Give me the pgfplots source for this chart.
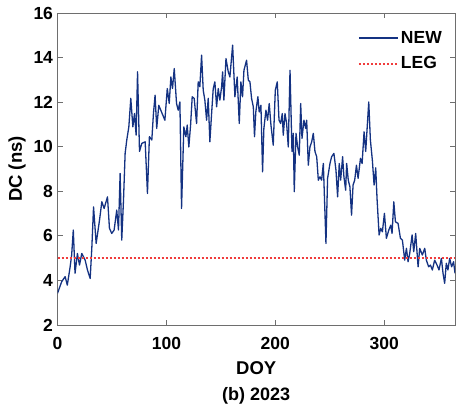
\documentclass[border=0pt]{standalone}
\usepackage{pgfplots}
\pgfplotsset{compat=1.18}
\usepackage{fontspec}
\setmainfont{Liberation Sans}
\definecolor{newblue}{RGB}{20,50,130}
\definecolor{legred}{RGB}{240,60,60}
\definecolor{axgray}{RGB}{110,110,110}
\begin{document}
\begin{tikzpicture}
\begin{axis}[
  name=ax,
  scale only axis,
  width=397.5pt, height=312pt,
  xmin=0, xmax=365, ymin=2, ymax=16,
  xtick={0,100,200,300}, ytick={2,4,...,16},
  tick align=inside,
  axis line style={axgray, line width=0.8pt},
  every tick/.style={axgray, line width=0.8pt},
  major tick length=5pt,
  /pgf/number format/assume math mode=true,
  tick label style={font=\fontsize{17.5}{17.5}\selectfont\bfseries, text=black},
  xticklabel style={yshift=-9pt},
  yticklabel style={xshift=-1pt},
  xlabel={DOY}, ylabel={DC (ns)},
  label style={font=\fontsize{18.5}{18.5}\selectfont\bfseries},
  xlabel style={yshift=-5pt},
  ylabel style={yshift=1pt},
  legend style={draw=none, fill=none, at={(1,1)}, anchor=north east,
    xshift=-8pt, yshift=-14pt,
    font=\fontsize{17.5}{17.5}\selectfont\bfseries, row sep=8pt,
    nodes={inner sep=2pt}},
  legend cell align=left,
  legend image code/.code={\draw[#1] (0pt,0pt) -- (39pt,0pt);},
]
\addplot[newblue, line width=1.3pt, line join=round] coordinates {
(0,3.42) (3.8,3.94) (7,4.17) (9,3.79) (11.6,4.61) (13,5.14) (14.5,6.26) (16.1,4.32)
(18.3,5.21) (20.2,4.69) (22.3,5.21) (25.4,4.91) (27.5,4.47) (30,4.09) (31.5,5.44)
(33.1,7.3) (35.5,5.66) (38.6,6.71) (40.7,7.53) (42.8,7.23) (45.9,7.75) (47.7,6.34)
(49.8,6.11) (52,6.26) (54.4,7.16) (56,6.26) (57.5,8.8) (59,5.81) (60.6,7.6) (62.1,9.7)
(63.6,10.3) (65.5,10.89) (67.3,12.17) (69.2,10.89) (70.7,11.49) (72.2,10.52) (73.5,13.36)
(75.3,9.79) (77.4,10.15) (80.5,10.22) (82.6,7.9) (84.4,10.45) (86.6,10.3) (88.1,11.49)
(89.6,12.31) (91.1,10.82) (93,11.86) (95.5,11.56) (98.6,11.19) (100.8,12.61) (102.6,11.94)
(104.1,13.13) (105.6,12.61) (107.2,13.51) (109.3,11.94) (110.8,11.64) (112.4,12.01)
(113.9,7.23) (116,10.89) (117.9,10.45) (119.1,10.97) (120.6,9.99) (122.2,10.97)
(123.7,12.24) (125.5,12.17) (127.7,11.04) (129.2,12.91) (130.7,12.69) (132.3,14.11)
(133.8,12.54) (135.3,12.09) (136.9,11.19) (138.4,12.17) (139.9,10.22) (141.5,11.49)
(143,12.61) (144.5,12.91) (146.1,11.79) (147.6,12.61) (149.1,12.09) (150.7,12.69)
(151.6,13.36) (152.8,12.09) (154.7,13.96) (156.8,13.36) (158.3,13.13) (160.8,14.56)
(162.9,12.24) (165,13.13) (166.9,11.04) (168.4,12.91) (169.9,12.24) (171.2,13.43)
(173.6,13.88) (175.2,12.99) (176.7,12.91) (178.2,12.17) (179.8,11.79) (180.9,10.45)
(182.1,11.56) (184,12.24) (185.2,11.56) (186.8,11.86) (188.3,8.87) (189.5,10.82)
(191.4,11.64) (192.9,11.19) (194.4,11.94) (196,10.97) (198.1,10.07) (200,12.54)
(201.8,12.91) (203.4,11.19) (204.9,11.04) (206.4,11.49) (207.3,10.52) (208.9,11.49)
(210.4,11.04) (211.9,9.99) (213.5,13.43) (215.3,9.79) (216.5,10.6) (217.4,7.98)
(219,10.6) (220.5,9.99) (222,9.62) (223.3,11.94) (224.5,10.37) (226.3,11.19)
(227.9,10.82) (228.8,11.19) (230.3,9.17) (231.8,9.99) (233.4,10.22) (234.9,10.6)
(236.4,9.79) (238,9.55) (239.5,8.5) (241,8.65) (242.5,8.5) (244.1,9.25) (246.5,5.66)
(248,8.58) (250.2,9.25) (251.7,9.55) (253.8,9.7) (255.7,8.95) (257.2,7.75) (258.7,9.25)
(260,8.5) (261.8,9.55) (263,8.65) (264.6,8.05) (265.5,9.25) (267,8.5) (268.5,8.2)
(270,6.93) (271.4,8.28) (272.9,8.5) (274.5,9.17) (276,8.58) (278.2,9.48) (279.7,9.25)
(281.5,10.67) (283,9.79) (285.8,12.01) (287.3,10.3) (289.1,9.4) (290.7,8.28) (292.2,9.05)
(293.4,7.68) (295.3,6.04) (296.8,6.34) (298.3,6.18) (300.2,7.01) (302,5.89) (304.2,6.26)
(306,6.48) (307.2,6.11) (308.8,7.53) (310.3,6.63) (312.7,6.56) (314.9,5.89) (316.7,5.81)
(318.8,4.91) (320.4,5.44) (321.9,4.84) (323.4,5.21) (325.6,6.04) (327.1,5.29) (328.9,6.11)
(331.1,4.61) (332.6,5.44) (335,5.14) (337.2,5.44) (338.7,4.91) (340.8,4.61) (342.4,4.69)
(344.2,4.47) (346.3,4.91) (348.5,4.69) (350.3,4.47) (352.5,4.99) (354,4.32) (355.5,3.87)
(357,4.77) (358.5,4.47) (360.1,4.99) (361.9,4.61) (363.7,4.84) (365,4.32)
};
\addlegendentry{NEW}
\addplot[legred, line width=2pt, dash pattern=on 2pt off 2pt] coordinates {(0,5) (365,5)};
\addlegendentry{LEG}
\end{axis}
\node[font=\fontsize{18}{18}\selectfont\bfseries] at ([yshift=-71pt]ax.south) {(b) 2023};
\pgfresetboundingbox
\path[use as bounding box] ([xshift=-57.5pt,yshift=-85pt]ax.south west) rectangle ([xshift=1pt,yshift=13pt]ax.north east);
\end{tikzpicture}
\end{document}
